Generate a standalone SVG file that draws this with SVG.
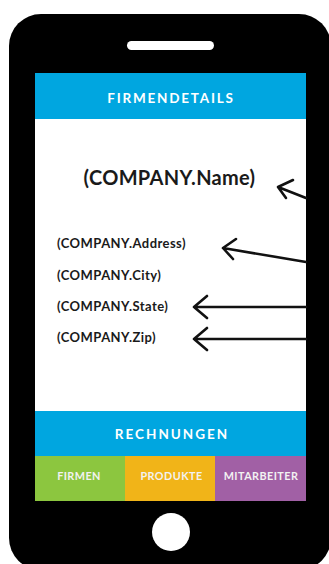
<svg xmlns="http://www.w3.org/2000/svg" width="329" height="564" viewBox="0 0 329 564">
<style>
.hdr{font-family:Lato,"Open Sans",sans-serif;font-weight:bold;fill:#fff;text-anchor:middle}
.tab{font-family:Lato,"Open Sans",sans-serif;font-weight:bold;fill:#f2f2f2;text-anchor:middle;font-size:10.8px;letter-spacing:0.45px}
.fld{font-family:Lato,"Open Sans",sans-serif;font-weight:bold;fill:#1a1a1a;font-size:13px;letter-spacing:0.45px}
.arr{fill:none;stroke:#111;stroke-width:2.6;stroke-linecap:round;stroke-linejoin:round}
</style>
<rect width="329" height="564" fill="#fff"/>
<g id="phone">
<rect x="9" y="14" width="322" height="556" rx="32" fill="#000"/>
<rect x="127" y="41" width="87" height="9" rx="4.5" fill="#fff"/>
<rect x="35" y="73" width="271" height="428" fill="#fff"/>
<circle cx="171" cy="532" r="19" fill="#fff"/>
</g>
<g id="header">
<rect x="35" y="73" width="271" height="46" fill="#00a6e0"/>
<text class="hdr" x="171" y="103" font-size="13.5" letter-spacing="1.8">FIRMENDETAILS</text>
</g>
<g id="name"><text x="169.5" y="185" font-family="Lato,'Open Sans',sans-serif" font-weight="bold" font-size="20" letter-spacing="0.3" fill="#1a1a1a" text-anchor="middle">(COMPANY.Name)</text></g>
<g id="address"><text class="fld" x="57" y="248">(COMPANY.Address)</text></g>
<g id="city"><text class="fld" x="57" y="280">(COMPANY.City)</text></g>
<g id="state"><text class="fld" x="57" y="311">(COMPANY.State)</text></g>
<g id="zip"><text class="fld" x="57" y="342">(COMPANY.Zip)</text></g>
<g id="rechnungen">
<rect x="35" y="411" width="271" height="45" fill="#00a6e0"/>
<text class="hdr" x="172" y="439" font-size="13.5" letter-spacing="2">RECHNUNGEN</text>
</g>
<g id="firmen"><rect x="35" y="456" width="90" height="45" fill="#8cc63f"/><text class="tab" x="79" y="480">FIRMEN</text></g>
<g id="produkte"><rect x="125" y="456" width="90" height="45" fill="#f1b418"/><text class="tab" x="171.5" y="480">PRODUKTE</text></g>
<g id="mitarbeiter"><rect x="215" y="456" width="91" height="45" fill="#a160a5"/><text class="tab" x="261" y="480">MITARBEITER</text></g>
<g id="connectors">
<path class="arr" d="M306 198 L278 187 M293 180 L278 187 L286 198"/>
<path class="arr" d="M306 262 L223 248 M236 239 L223 248 L233 259"/>
<path class="arr" d="M306 307 L194 307 M207 296 L194 307 L207 318"/>
<path class="arr" d="M306 339 L194 339 M207 328 L194 339 L207 350"/>
</g>
</svg>
